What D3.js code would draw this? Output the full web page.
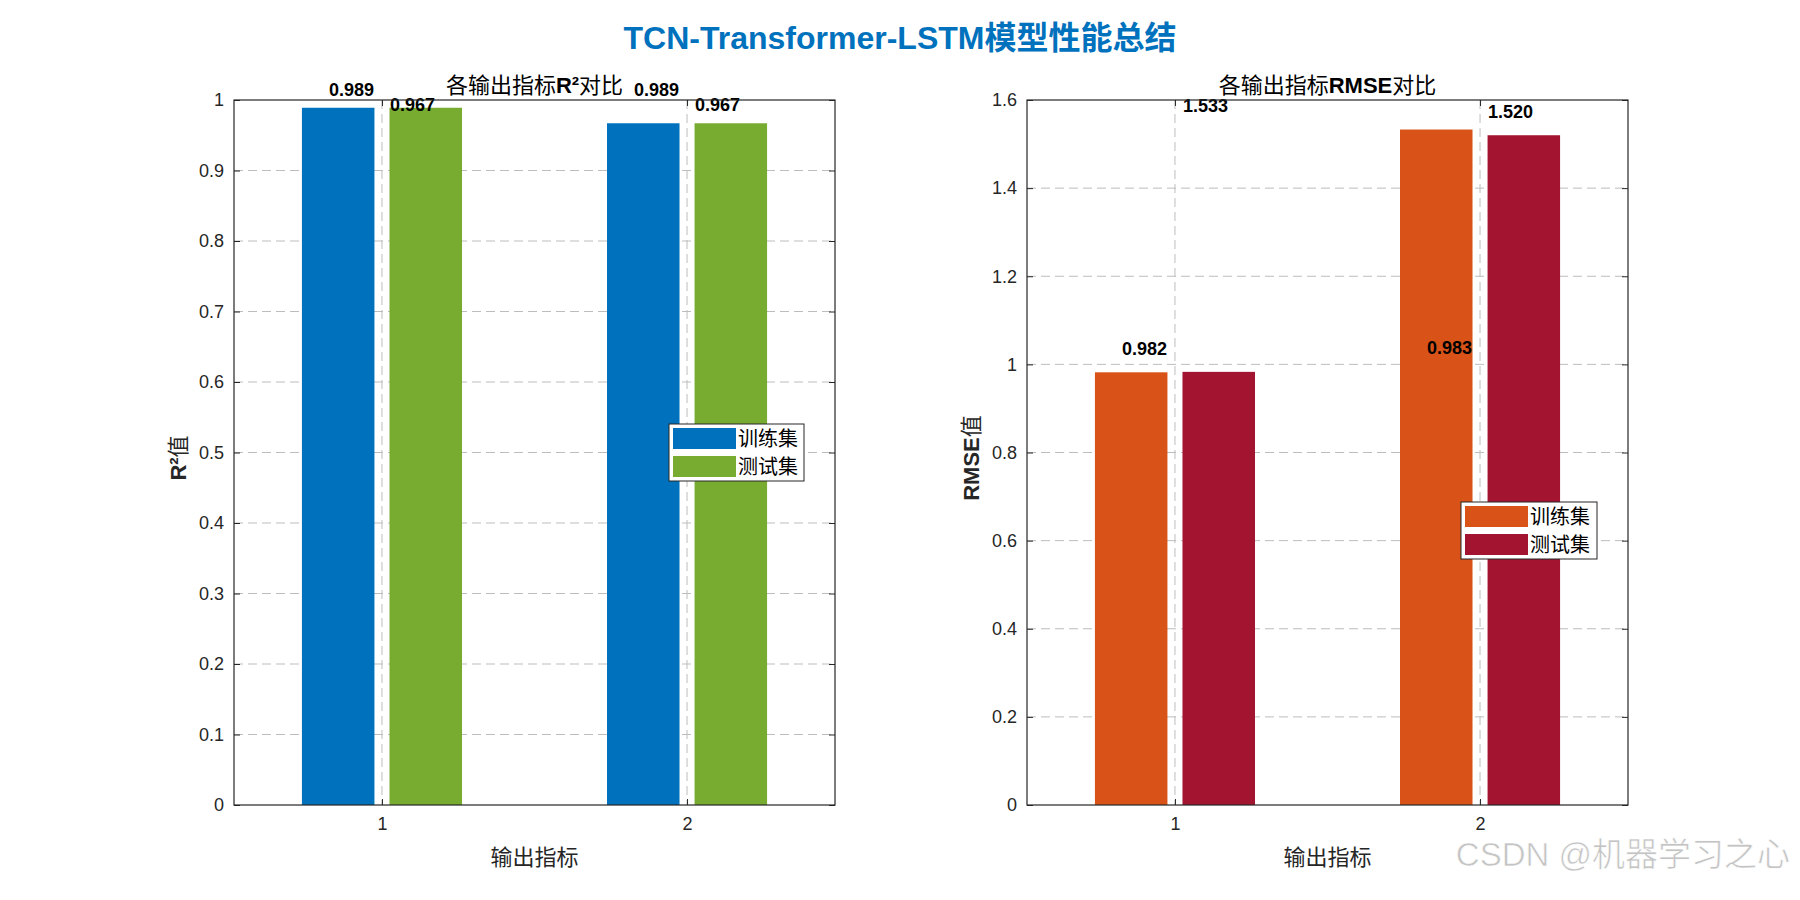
<!DOCTYPE html>
<html>
<head>
<meta charset="utf-8">
<script src="https://cdn.jsdelivr.net/npm/d3@7"></script>
<style>
  body { margin: 0; background: #fff; }
  text { font-family: "Liberation Sans", Arial, "Noto Sans CJK SC", sans-serif; }
</style>
</head>
<body>
<div id="chart"></div>
<script>
"use strict";

// data
const outputs = [1, 2];
const outputLabels = ["1", "2"];
const setNames = ["训练集", "测试集"];

const r2Train = [0.989, 0.967];
const r2Test = [0.989, 0.967];
const rmseTrain = [0.982, 1.533];
const rmseTest = [0.983, 1.520];

const r2Ticks = [0, 0.1, 0.2, 0.3, 0.4, 0.5, 0.6, 0.7, 0.8, 0.9, 1];
const rmseTicks = [0, 0.2, 0.4, 0.6, 0.8, 1, 1.2, 1.4, 1.6];

(function () {
  const width = 1800, height = 900;
  const svg = d3.select('#chart').append('svg')
    .attr('width', width)
    .attr('height', height);

  svg.append('rect').attr('width', width).attr('height', height).attr('fill', '#fff');

  // main title
  svg.append('text')
    .attr('x', 900)
    .attr('y', 38)
    .attr('text-anchor', 'middle')
    .attr('dominant-baseline', 'central')
    .style('font-size', '32px')
    .style('font-weight', 'bold')
    .style('fill', '#0072BD')
    .text('TCN-Transformer-LSTM模型性能总结');

  drawPanel({
    left: 234, right: 835, top: 100, bottom: 805,
    series: [r2Train, r2Test],
    colors: ['#0072BD', '#77AC30'],
    ymax: 1, ticks: r2Ticks,
    labelOffset: 0.017,
    title: [['各输出指标', false], ['R²', true], ['对比', false]],
    ylabel: [['R²', true], ['值', false]],
    legend: { x: 669, y: 424, w: 135, h: 57 }
  });

  drawPanel({
    left: 1027, right: 1628, top: 100, bottom: 805,
    series: [rmseTrain, rmseTest],
    colors: ['#D95319', '#A2142F'],
    ymax: 1.6, ticks: rmseTicks,
    labelOffset: 0.04,
    title: [['各输出指标', false], ['RMSE', true], ['对比', false]],
    ylabel: [['RMSE', true], ['值', false]],
    legend: { x: 1461, y: 502, w: 136, h: 57 }
  });

  // corner mark
  svg.append('text')
    .attr('x', 1790)
    .attr('y', 866)
    .attr('text-anchor', 'end')
    .style('font-size', '33px')
    .style('fill', '#c4c4c4')
    .style('stroke', '#fff')
    .style('stroke-width', 0.6)
    .text('CSDN @机器学习之心');

  function addParts(sel, parts) {
    parts.forEach(function (p) {
      sel.append('tspan')
        .style('font-weight', p[1] ? 'bold' : 'normal')
        .text(p[0]);
    });
  }

  function drawPanel(o) {
    const g = svg.append('g');
    const axisColor = '#262626';

    const x = d3.scaleLinear().domain([0.515, 2.485]).range([o.left, o.right]);
    const y = d3.scaleLinear().domain([0, o.ymax]).range([o.bottom, o.top]);

    const barW = 0.2377;
    const offsets = [-0.1435, 0.1435];

    // grid
    g.append('g').selectAll('line.hgrid')
      .data(o.ticks.slice(1, -1))
      .enter().append('line')
      .attr('x1', o.left).attr('x2', o.right)
      .attr('y1', d => y(d)).attr('y2', d => y(d))
      .attr('stroke', '#bdbdbd')
      .attr('stroke-dasharray', '9,5');

    g.append('g').selectAll('line.vgrid')
      .data(outputs)
      .enter().append('line')
      .attr('x1', d => x(d)).attr('x2', d => x(d))
      .attr('y1', o.top).attr('y2', o.bottom)
      .attr('stroke', '#bdbdbd')
      .attr('stroke-dasharray', '9,5');

    // bars
    o.series.forEach(function (vals, s) {
      g.append('g').selectAll('rect')
        .data(vals)
        .enter().append('rect')
        .attr('x', (d, i) => x(outputs[i] + offsets[s] - barW / 2))
        .attr('width', x(barW) - x(0))
        .attr('y', d => y(d))
        .attr('height', d => y(0) - y(d))
        .attr('fill', o.colors[s]);
    });

    // value labels (placed as in the original figure)
    outputs.forEach(function (gv, i) {
      [0, 1].forEach(function (s) {
        const v = o.series[i][s];
        g.append('text')
          .attr('x', x(gv + (s === 0 ? -0.1 : 0.1)))
          .attr('y', y(v + o.labelOffset))
          .attr('text-anchor', 'middle')
          .style('font-size', '18px')
          .style('font-weight', 'bold')
          .style('fill', '#000')
          .text(v.toFixed(3));
      });
    });

    // axes
    const yAxis = d3.axisLeft(y).tickValues(o.ticks).tickSizeInner(-6).tickSizeOuter(0).tickPadding(10)
      .tickFormat(d3.format('~g'));
    const yAxisR = d3.axisRight(y).tickValues(o.ticks).tickSizeInner(-6).tickSizeOuter(0).tickFormat('');
    const xAxis = d3.axisBottom(x).tickValues(outputs).tickSizeInner(-6).tickSizeOuter(0).tickPadding(12)
      .tickFormat((d, i) => outputLabels[i]);
    const xAxisT = d3.axisTop(x).tickValues(outputs).tickSizeInner(-6).tickSizeOuter(0).tickFormat('');

    const ax = [
      g.append('g').attr('transform', 'translate(' + o.left + ',0)').call(yAxis),
      g.append('g').attr('transform', 'translate(' + o.right + ',0)').call(yAxisR),
      g.append('g').attr('transform', 'translate(0,' + o.bottom + ')').call(xAxis),
      g.append('g').attr('transform', 'translate(0,' + o.top + ')').call(xAxisT)
    ];
    ax.forEach(function (a) {
      a.select('.domain').remove();
      a.selectAll('line').attr('stroke', axisColor);
      a.selectAll('text')
        .style('font-size', '18px')
        .style('font-family', '"Liberation Sans", Arial, sans-serif')
        .attr('fill', axisColor);
    });

    g.append('rect')
      .attr('x', o.left).attr('y', o.top)
      .attr('width', o.right - o.left).attr('height', o.bottom - o.top)
      .attr('fill', 'none')
      .attr('stroke', axisColor)
      .attr('stroke-width', 1.2);

    // title
    const t = g.append('text')
      .attr('x', (o.left + o.right) / 2)
      .attr('y', o.top - 7)
      .attr('text-anchor', 'middle')
      .style('font-size', '22px')
      .style('fill', '#000');
    addParts(t, o.title);

    // x label
    g.append('text')
      .attr('x', (o.left + o.right) / 2)
      .attr('y', 857)
      .attr('text-anchor', 'middle')
      .attr('dominant-baseline', 'central')
      .style('font-size', '22px')
      .style('fill', axisColor)
      .text('输出指标');

    // y label
    const yl = g.append('text')
      .attr('transform', 'translate(' + (o.left - 56) + ',458) rotate(-90)')
      .attr('text-anchor', 'middle')
      .attr('dominant-baseline', 'central')
      .style('font-size', '22px')
      .style('fill', axisColor);
    addParts(yl, o.ylabel);

    // legend
    const lg = g.append('g').attr('transform', 'translate(' + o.legend.x + ',' + o.legend.y + ')');
    lg.append('rect')
      .attr('width', o.legend.w).attr('height', o.legend.h)
      .attr('fill', '#fff')
      .attr('stroke', axisColor);
    setNames.forEach(function (name, s) {
      lg.append('rect')
        .attr('x', 4).attr('y', 4 + s * 28)
        .attr('width', 63).attr('height', 21)
        .attr('fill', o.colors[s]);
      lg.append('text')
        .attr('x', 69).attr('y', 14.5 + s * 28)
        .attr('dominant-baseline', 'central')
        .style('font-size', '20px')
        .style('fill', '#000')
        .text(name);
    });
  }
})();
</script>
</body>
</html>
